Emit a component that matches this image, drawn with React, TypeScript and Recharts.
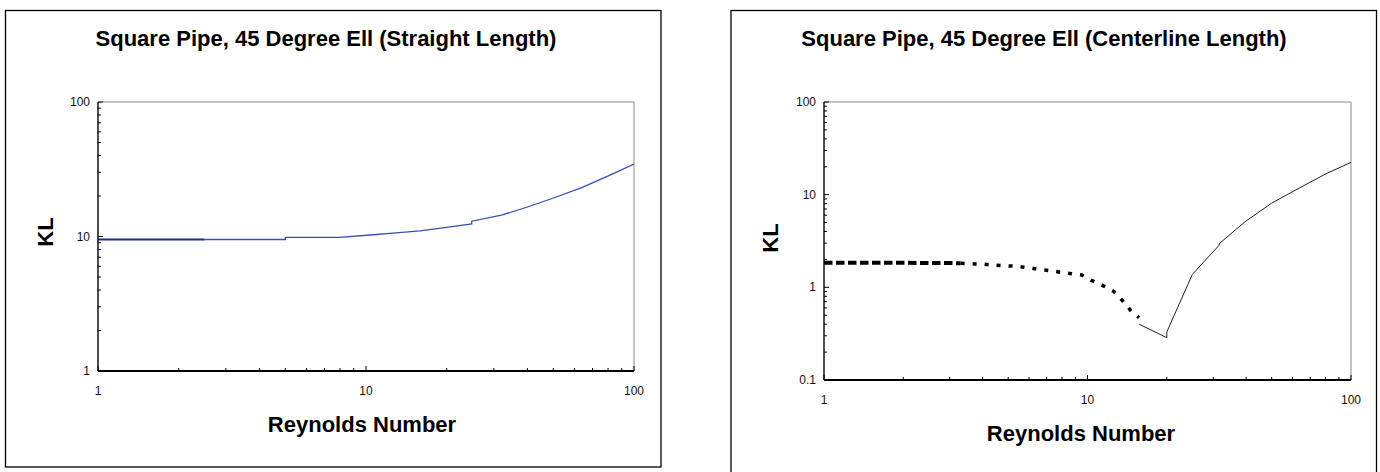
import React from "react";
import { Line, LineChart, ReferenceLine, XAxis, YAxis } from "recharts";

// straight length curve (left chart)
const straightHeadRe = [1, 2, 2.5];
const straightHeadKL = [9.5, 9.5, 9.5];
const straightRe = [2.5, 5, 5, 8, 10.35, 12.6, 15.9, 20, 24.8, 24.8, 32, 39.8, 50.7, 63.8, 80.2, 100];
const straightKL = [9.5, 9.5, 9.86, 9.86, 10.26, 10.6, 11.0, 11.7, 12.4, 13.0, 14.4, 16.5, 19.5, 23.1, 28.2, 34.6];

// centerline length curve (right chart)
const centerDashRe = [1, 1.5, 2, 2.5, 3, 3.3];
const centerDashKL = [1.84, 1.84, 1.84, 1.83, 1.83, 1.82];
const centerDotRe = [3.3, 4, 4.5, 5.5, 6.2, 6.9, 7.6, 8.4, 9.5, 10.4, 11.4, 12.6, 13.5, 14.6, 15.7];
const centerDotKL = [1.82, 1.78, 1.73, 1.68, 1.6, 1.54, 1.48, 1.42, 1.36, 1.18, 1.05, 0.9, 0.73, 0.56, 0.47];
const centerSolidRe = [15.7, 20, 20, 25, 31.6, 31.6, 39.6, 50, 64, 81, 100];
const centerSolidKL = [0.4, 0.286, 0.33, 1.38, 2.85, 2.95, 5.1, 8.1, 11.9, 17, 22.3];

// log axis ticks (labels only on decades)
const reTicks = [1, 2, 3, 4, 5, 6, 7, 8, 9, 10, 20, 30, 40, 50, 60, 70, 80, 90, 100];
const klTicksLeft = [1, 2, 3, 4, 5, 6, 7, 8, 9, 10, 20, 30, 40, 50, 60, 70, 80, 90, 100];
const klTicksRight = [
  0.1, 0.2, 0.3, 0.4, 0.5, 0.6, 0.7, 0.8, 0.9, 1, 2, 3, 4, 5, 6, 7, 8, 9, 10, 20, 30, 40, 50, 60, 70,
  80, 90, 100
];

const FONT = "'Liberation Sans', Arial, Helvetica, sans-serif";

const toPoints = (xs: number[], ys: number[]) => xs.map((re, i) => ({ re, kl: ys[i] }));

const isDecade = (v: number) => {
  const l = Math.log10(v);
  return Math.abs(l - Math.round(l)) < 1e-6;
};

const XTick = (props: any) => {
  const { x, y, payload } = props;
  const major = isDecade(payload.value);
  return (
    <g>
      <line x1={x} x2={x} y1={y} y2={y - (major ? 5 : 3)} stroke="#000" strokeWidth={1} />
      {major ? (
        <text x={x} y={y + 24} textAnchor="middle" fontSize={12} fontFamily={FONT} fill="#111">
          {String(payload.value)}
        </text>
      ) : null}
    </g>
  );
};

const YTick = (props: any) => {
  const { x, y, payload } = props;
  const major = isDecade(payload.value);
  return (
    <g>
      <line x1={x} x2={x + (major ? 5 : 3)} y1={y} y2={y} stroke="#000" strokeWidth={1} />
      {major ? (
        <text x={x - 8} y={y + 4} textAnchor="end" fontSize={12} fontFamily={FONT} fill="#111">
          {String(payload.value)}
        </text>
      ) : null}
    </g>
  );
};

function StraightChart() {
  return (
    <LineChart width={680} height={472} margin={{ top: 102, right: 46, bottom: 51, left: 48 }}>
      <XAxis
        dataKey="re"
        type="number"
        scale="log"
        domain={[1, 100]}
        ticks={reTicks}
        interval={0}
        height={50}
        tickSize={0}
        tickMargin={0}
        tick={<XTick />}
        axisLine={{ stroke: "#000", strokeWidth: 1.8 }}
        allowDataOverflow
      />
      <YAxis
        dataKey="kl"
        type="number"
        scale="log"
        domain={[1, 100]}
        ticks={klTicksLeft}
        interval={0}
        width={50}
        tickSize={0}
        tickMargin={0}
        tick={<YTick />}
        axisLine={{ stroke: "#000", strokeWidth: 1.4 }}
        allowDataOverflow
      />
      <ReferenceLine y={100} stroke="#8c8c8c" strokeWidth={1} />
      <ReferenceLine x={100} stroke="#8c8c8c" strokeWidth={1} />
      <Line
        data={toPoints(straightRe, straightKL)}
        dataKey="kl"
        type="linear"
        stroke="#3c4db5"
        strokeWidth={1.3}
        dot={false}
        isAnimationActive={false}
      />
      <Line
        data={toPoints(straightHeadRe, straightHeadKL)}
        dataKey="kl"
        type="linear"
        stroke="#1d2a8a"
        strokeWidth={2}
        dot={false}
        isAnimationActive={false}
      />
    </LineChart>
  );
}

function CenterlineChart() {
  return (
    <LineChart width={680} height={472} margin={{ top: 102, right: 29, bottom: 42, left: 74 }}>
      <XAxis
        dataKey="re"
        type="number"
        scale="log"
        domain={[1, 100]}
        ticks={reTicks}
        interval={0}
        height={50}
        tickSize={0}
        tickMargin={0}
        tick={<XTick />}
        axisLine={{ stroke: "#000", strokeWidth: 1.8 }}
        allowDataOverflow
      />
      <YAxis
        dataKey="kl"
        type="number"
        scale="log"
        domain={[0.1, 100]}
        ticks={klTicksRight}
        interval={0}
        width={50}
        tickSize={0}
        tickMargin={0}
        tick={<YTick />}
        axisLine={{ stroke: "#000", strokeWidth: 1.4 }}
        allowDataOverflow
      />
      <ReferenceLine y={100} stroke="#8c8c8c" strokeWidth={1} />
      <ReferenceLine x={100} stroke="#8c8c8c" strokeWidth={1} />
      <Line
        data={toPoints(centerDashRe, centerDashKL)}
        dataKey="kl"
        type="linear"
        stroke="#000"
        strokeWidth={4}
        strokeDasharray="8.5 3.5"
        dot={false}
        isAnimationActive={false}
      />
      <Line
        data={toPoints(centerDotRe, centerDotKL)}
        dataKey="kl"
        type="linear"
        stroke="#000"
        strokeWidth={3.5}
        strokeDasharray="4 8"
        dot={false}
        isAnimationActive={false}
      />
      <Line
        data={toPoints(centerSolidRe, centerSolidKL)}
        dataKey="kl"
        type="linear"
        stroke="#222"
        strokeWidth={1}
        dot={false}
        isAnimationActive={false}
      />
    </LineChart>
  );
}

export default function App() {
  const titleStyle = { fontFamily: FONT, fontWeight: 700 };
  return (
    <div
      style={{
        position: "absolute",
        left: 0,
        top: 0,
        width: 1380,
        height: 472,
        overflow: "hidden",
        background: "#fff"
      }}
    >
      <div style={{ position: "absolute", left: 0, top: 0 }}>
        <StraightChart />
      </div>
      <div style={{ position: "absolute", left: 700, top: 0 }}>
        <CenterlineChart />
      </div>
      <svg
        width={1380}
        height={472}
        style={{ position: "absolute", left: 0, top: 0, pointerEvents: "none" }}
      >
        <rect x={5.5} y={10.5} width={655.5} height={456.5} fill="none" stroke="#000" strokeWidth={1.3} />
        <rect x={731} y={10.5} width={645.5} height={480} fill="none" stroke="#000" strokeWidth={1.3} />
        <text x={326} y={46} textAnchor="middle" fontSize={22} {...titleStyle}>
          Square Pipe, 45 Degree Ell (Straight Length)
        </text>
        <text x={1044} y={46} textAnchor="middle" fontSize={22} {...titleStyle}>
          Square Pipe, 45 Degree Ell (Centerline Length)
        </text>
        <text x={362} y={432} textAnchor="middle" fontSize={22} {...titleStyle}>
          Reynolds Number
        </text>
        <text x={1081} y={441} textAnchor="middle" fontSize={22} {...titleStyle}>
          Reynolds Number
        </text>
        <text transform="translate(53,232) rotate(-90)" textAnchor="middle" fontSize={22} {...titleStyle}>
          KL
        </text>
        <text transform="translate(778,238) rotate(-90)" textAnchor="middle" fontSize={22} {...titleStyle}>
          KL
        </text>
      </svg>
    </div>
  );
}
